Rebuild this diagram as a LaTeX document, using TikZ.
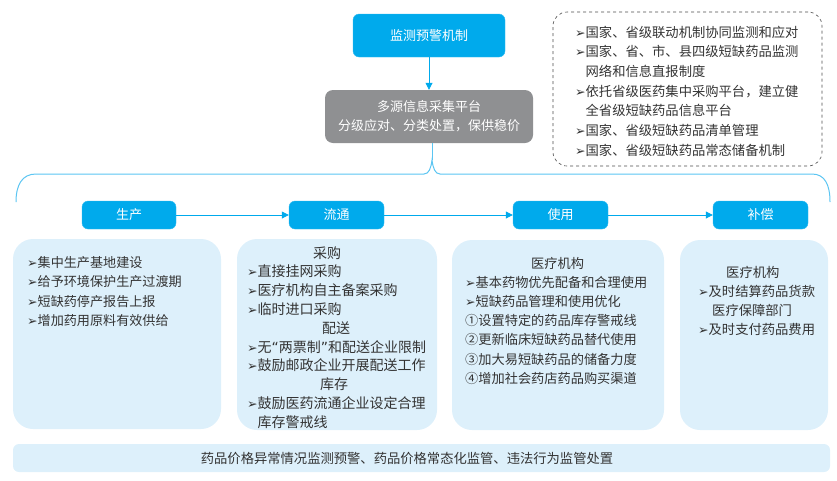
\documentclass[tikz,border=0pt]{standalone}
\usepackage{fontspec}
\setmainfont{Noto Sans CJK SC}
\newfontfamily\symfont{DejaVu Sans}
\usetikzlibrary{arrows.meta}
\definecolor{cyanb}{HTML}{00AAEC}
\definecolor{grayb}{HTML}{8F9092}
\definecolor{lightb}{HTML}{DDF0FB}
\definecolor{bracec}{HTML}{5BC5F2}
\definecolor{txt}{HTML}{333333}
\newcommand{\bul}{{\symfont\fontsize{12.5}{12}\selectfont ➢}}
\newcommand{\myLQ}{{\symfont “}}
\newcommand{\myRQ}{{\symfont ”}}
\tikzset{
  cyanbox/.style={fill=cyanb, draw=cyanb!80!white, rounded corners=6pt, text=white, font=\fontsize{13}{15}\selectfont, inner sep=0pt},
  graybox/.style={fill=grayb, rounded corners=8pt, text=white, font=\fontsize{13}{19}\selectfont, inner sep=0pt, align=center},
  lightbox/.style={fill=lightb, rounded corners=20pt, inner sep=0pt},
  bottombox/.style={fill=lightb, rounded corners=6pt, inner sep=0pt},
  dashbox/.style={draw=black!70, dashed, rounded corners=14pt, inner sep=0pt, line width=0.6pt},
  txtblock/.style={inner sep=0pt, text=txt, anchor=base west},
  flow/.style={draw=cyanb, line width=0.8pt, -{Triangle[width=7pt,length=7pt]}},
  brace/.style={draw=bracec, line width=1pt}
}
\begin{document}
\begin{tikzpicture}[x=1pt,y=-1pt]
\useasboundingbox (0,0) rectangle (837,480);
% top
\node[cyanbox, minimum width=152pt, minimum height=43pt] (top) at (429,35.5) {监测预警机制};
\node[graybox, minimum width=208pt, minimum height=53pt] (gray) at (429,116.5) {多源信息采集平台\\分级应对、分类处置，保供稳价};
\draw[flow] (top) -- (gray);
% dashed box
\node[dashbox, minimum width=269pt, minimum height=154pt] (dash) at (687.5,89) {};
\node[txtblock] (dashtxt) at (575,37) {\fontsize{13.3}{19.7}\selectfont
\begin{tabular}[t]{@{}l@{}}
\bul 国家、省级联动机制协同监测和应对\\
\bul 国家、省、市、县四级短缺药品监测\\
\phantom{\bul}网络和信息直报制度\\
\bul 依托省级医药集中采购平台，建立健\\
\phantom{\bul}全省级短缺药品信息平台\\
\bul 国家、省级短缺药品清单管理\\
\bul 国家、省级短缺药品常态储备机制
\end{tabular}};
% brace
\coordinate (peak) at (432,160);
\draw[brace] (16,202) .. controls (16,185) and (22,174) .. (36,174) -- (424,174) .. controls (429,174) and (431,168) .. (peak) .. controls (433,168) and (435,174) .. (440,174) -- (812,174) .. controls (825,174) and (830,185) .. (830,202);
\draw[brace] (gray.south -| peak) -- (peak);
% stage boxes
\node[cyanbox, minimum width=94pt, minimum height=28pt] (s1) at (129,215) {生产};
\node[cyanbox, minimum width=95pt, minimum height=28pt] (s2) at (336.5,215) {流通};
\node[cyanbox, minimum width=95pt, minimum height=28pt] (s3) at (560.5,215) {使用};
\node[cyanbox, minimum width=95pt, minimum height=28pt] (s4) at (760.5,215) {补偿};
\draw[flow] (s1) -- (s2);
\draw[flow] (s2) -- (s3);
\draw[flow] (s3) -- (s4);
% content boxes
\node[lightbox, minimum width=208pt, minimum height=190pt] (b1) at (117,334) {};
\node[lightbox, minimum width=200pt, minimum height=191pt] (b2) at (337,334.5) {};
\node[lightbox, minimum width=212pt, minimum height=190pt] (b3) at (558,335) {};
\node[lightbox, minimum width=148pt, minimum height=190pt] (b4) at (754,335) {};
\node[txtblock] (t1) at (27,267) {\fontsize{13.1}{19.5}\selectfont
\begin{tabular}[t]{@{}l@{}}
\bul 集中生产基地建设\\
\bul 给予环境保护生产过渡期\\
\bul 短缺药停产报告上报\\
\bul 增加药用原料有效供给
\end{tabular}};
\node[txtblock] (t2) at (247,258) {\fontsize{14}{18.8}\selectfont
\begin{tabular}[t]{@{}l@{}}
\hspace*{66pt}采购\\
\bul 直接挂网采购\\
\bul 医疗机构自主备案采购\\
\bul 临时进口采购\\
\hspace*{75pt}配送\\
\bul 无\myLQ 两票制\myRQ 和配送企业限制\\
\bul 鼓励邮政企业开展配送工作\\
\hspace*{73pt}库存\\
\bul 鼓励医药流通企业设定合理\\
\phantom{\bul}库存警戒线
\end{tabular}};
\node[txtblock] (t3) at (465,268) {\fontsize{13.2}{19.2}\selectfont
\begin{tabular}[t]{@{}l@{}}
\hspace*{66pt}医疗机构\\
\bul 基本药物优先配备和合理使用\\
\bul 短缺药品管理和使用优化\\
①设置特定的药品库存警戒线\\
②更新临床短缺药品替代使用\\
③加大易短缺药品的储备力度\\
④增加社会药店药品购买渠道
\end{tabular}};
\node[txtblock] (t4) at (698,277) {\fontsize{13.3}{19.3}\selectfont
\begin{tabular}[t]{@{}l@{}}
\hspace*{28pt}医疗机构\\
\bul 及时结算药品货款\\
\hspace*{14pt}医疗保障部门\\
\bul 及时支付药品费用
\end{tabular}};
% bottom
\node[bottombox, minimum width=817pt, minimum height=28pt] (bottom) at (421.5,458) {};
\node[inner sep=0pt, text=txt, font=\fontsize{13.3}{15}\selectfont] (bottomtxt) at (407,458.5) {药品价格异常情况监测预警、药品价格常态化监管、违法行为监管处置};
\end{tikzpicture}
\end{document}
